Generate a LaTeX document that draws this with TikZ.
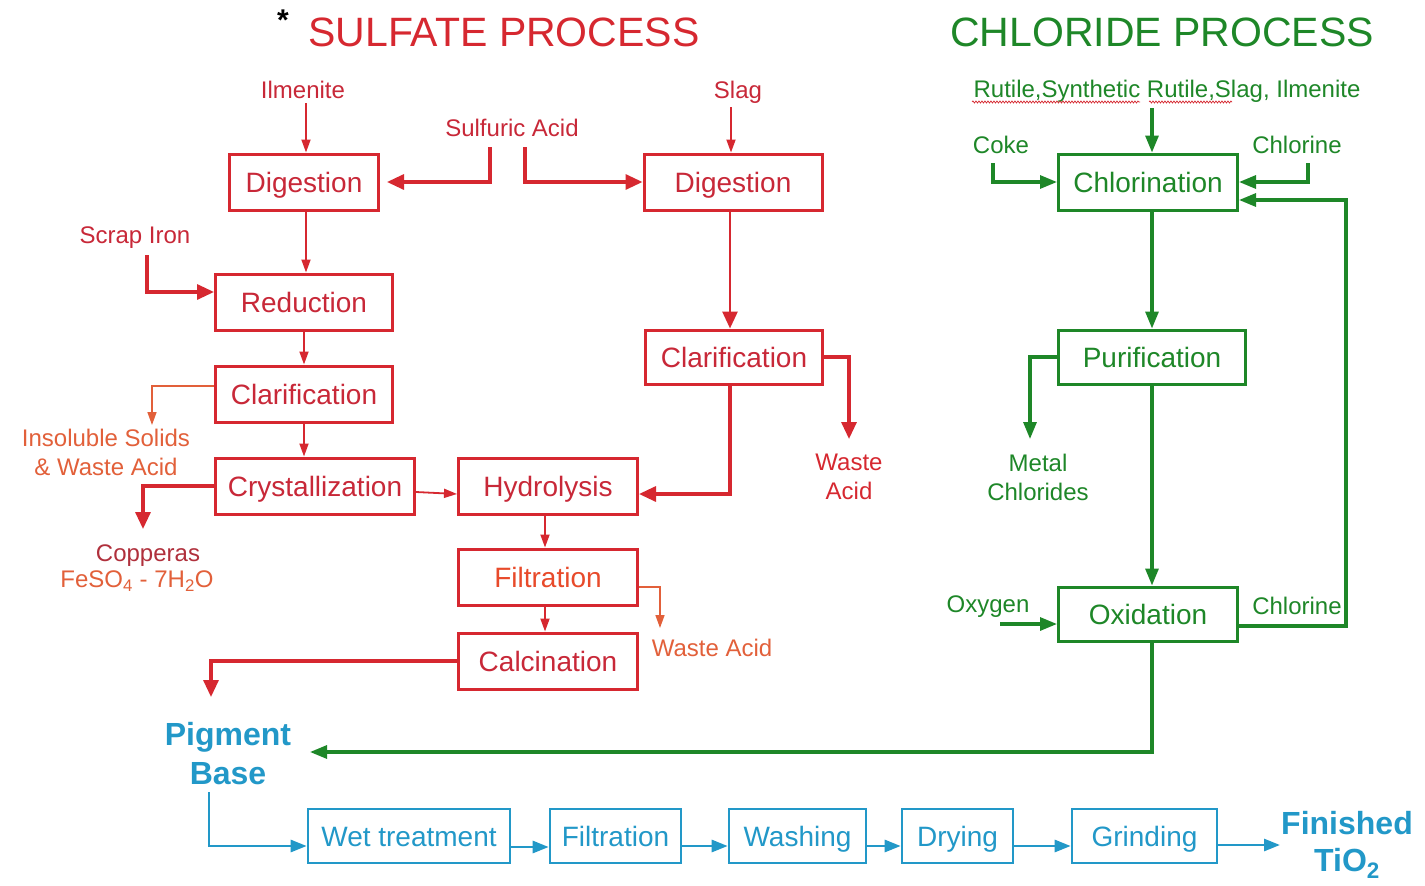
\documentclass[tikz,border=0pt]{standalone}
\usepackage{fontspec}
\setmainfont{Liberation Sans}
\usetikzlibrary{arrows.meta,decorations.pathmorphing}

\definecolor{sred}{RGB}{214,40,48}
\definecolor{stxt}{RGB}{200,40,56}
\definecolor{sorange}{RGB}{226,96,58}
\definecolor{sfilt}{RGB}{232,74,42}
\definecolor{sbrown}{RGB}{176,48,60}
\definecolor{cgreen}{RGB}{30,135,40}
\definecolor{pblue}{RGB}{34,152,200}

\tikzset{
  x=1pt, y=-1pt,
  procbox/.style={draw, line width=3pt, rectangle, inner sep=0pt, anchor=center,
    text height=20pt, text depth=0pt,
    font=\fontsize{28}{30}\selectfont},
  redbox/.style={procbox, draw=sred, text=stxt},
  greenbox/.style={procbox, draw=cgreen, text=cgreen},
  bluebox/.style={procbox, draw=pblue, text=pblue, line width=2.6pt},
  lbl/.style={inner sep=0pt, anchor=center, align=center, font=\fontsize{24}{29}\selectfont},
  bigtip/.style={-{Triangle[length=17pt,width=15pt]}},
  smalltip/.style={-{Triangle[length=13pt,width=9pt]}},
  thickred/.style={draw=sred, line width=3.2pt, bigtip},
  thinred/.style={draw=sred, line width=1.8pt, smalltip},
  thinorange/.style={draw=sorange, line width=1.6pt, smalltip},
  greenflow/.style={draw=cgreen, line width=3.1pt, -{Triangle[length=17pt,width=13pt]}},
  blueflow/.style={draw=pblue, line width=2.7pt, -{Triangle[length=16pt,width=12pt]}},
}

\begin{document}
\begin{tikzpicture}
\useasboundingbox[fill=white] (0,0) rectangle (1425,886);

% ---------- titles ----------
\node[inner sep=0pt, font=\bfseries\fontsize{30}{30}\selectfont] (star) at (283,20) {*};
\node[inner sep=0pt, text=sred, font=\fontsize{41}{41}\selectfont] (sulftitle) at (504,32) {SULFATE PROCESS};
\node[inner sep=0pt, text=cgreen, font=\fontsize{41}{41}\selectfont] (chlotitle) at (1162,32) {CHLORIDE PROCESS};

% ---------- sulfate process boxes ----------
\node[redbox, minimum width=149pt, minimum height=56pt] (digL) at (304,182) {Digestion};
\node[redbox, minimum width=177pt, minimum height=56pt] (red) at (304,302) {Reduction};
\node[redbox, minimum width=177pt, minimum height=56pt] (claL) at (304,394) {Clarification};
\node[redbox, minimum width=199pt, minimum height=56pt] (cry) at (315,486) {Crystallization};
\node[redbox, minimum width=179pt, minimum height=56pt] (hyd) at (548,486) {Hydrolysis};
\node[redbox, minimum width=179pt, minimum height=56pt, text=sfilt] (filS) at (548,577) {Filtration};
\node[redbox, minimum width=179pt, minimum height=56pt] (cal) at (548,661) {Calcination};
\node[redbox, minimum width=178pt, minimum height=56pt] (digR) at (733,182) {Digestion};
\node[redbox, minimum width=177pt, minimum height=54pt] (claR) at (734,357) {Clarification};

% ---------- sulfate labels ----------
\node[lbl, text=stxt] (ilm) at (303,90) {Ilmenite};
\node[lbl, text=stxt] (sulf) at (512,128) {Sulfuric Acid};
\node[lbl, text=stxt] (slag) at (738,92) {Slag};
\node[lbl, text=stxt] (scrap) at (135,238) {Scrap Iron};
\node[lbl, text=sorange] (insol) at (106,452) {Insoluble Solids\\\& Waste Acid};
\node[lbl, text=sbrown] (copp) at (148,556) {Copperas};
\node[lbl, text=sorange] (feso) at (137,581) {FeSO\textsubscript{4} - 7H\textsubscript{2}O};
\node[lbl, text=sred] (wasteR) at (849,477) {Waste\\Acid};
\node[lbl, text=sorange] (wasteF) at (712,648) {Waste Acid};

% ---------- sulfate connectors ----------
\draw[thinred] (ilm.south) ++(3,4) -- (digL.north -| 306,0);
\coordinate (saL) at (490,147);
\coordinate (saR) at (525,147);
\draw[thickred, shorten >=7pt] (saL) |- (digL.east);
\draw[thickred] (saR) |- (digR.west);
\draw[thinred] (slag.south) ++(-7,4) -- (digR.north -| 731,0);
\draw[thinred] (digL.south -| 306,0) -- (red.north -| 306,0);
\coordinate (scr) at (147,255);
\draw[thickred] (scr) |- (red.west |- 0,292);
\draw[thinred] (red.south) -- (claL.north);
\coordinate (insolTop) at (152,425);
\draw[thinorange] (claL.west |- 0,386) -| (insolTop);
\draw[thinred] (claL.south) -- (cry.north -| claL.south);
\coordinate (coppTop) at (143,529);
\draw[thickred] (cry.west) -| (coppTop);
\draw[thinred] (cry.east |- 0,492) -- (hyd.west |- 0,494);
\draw[thickred, line width=2.8pt] (digR.south -| 730,0) -- (claR.north -| 730,0);
\coordinate (wasteRTop) at (849,439);
\draw[thickred] (claR.east) -| (wasteRTop);
\draw[thickred] (claR.south -| 730,0) |- (hyd.east |- 0,494);
\draw[thinred] (hyd.south -| 545,0) -- (filS.north -| 545,0);
\coordinate (wasteFTop) at (660,628);
\draw[thinorange] (filS.east |- 0,587) -| (wasteFTop);
\draw[thinred] (filS.south -| 545,0) -- (cal.north -| 545,0);
\coordinate (pigTop) at (211,697);
\draw[thickred] (cal.west) -| (pigTop);

% ---------- chloride process boxes ----------
\node[greenbox, minimum width=179pt, minimum height=56pt] (chl) at (1148,182) {Chlorination};
\node[greenbox, minimum width=187pt, minimum height=54pt] (pur) at (1152,357) {Purification};
\node[greenbox, minimum width=179pt, minimum height=54pt] (oxi) at (1148,614) {Oxidation};

% ---------- chloride labels ----------
\node[lbl, text=cgreen] (feed) at (1167,91) {Rutile,Synthetic Rutile,Slag, Ilmenite};
\draw[sred, line width=0.7pt, decorate, decoration={snake, amplitude=1pt, segment length=3pt}]
  (972,102) -- (1140,102);
\draw[sred, line width=0.7pt, decorate, decoration={snake, amplitude=1pt, segment length=3pt}]
  (1149,102) -- (1232,102);
\node[lbl, text=cgreen] (coke) at (1001,145) {Coke};
\node[lbl, text=cgreen] (clin) at (1297,145) {Chlorine};
\node[lbl, text=cgreen] (metal) at (1038,477) {Metal\\Chlorides};
\node[lbl, text=cgreen] (oxy) at (988,607) {Oxygen};
\node[lbl, text=cgreen] (clout) at (1297,606) {Chlorine};

% ---------- chloride connectors ----------
\coordinate (feedBot) at (1152,108);
\draw[greenflow] (feedBot) -- (chl.north -| feedBot);
\coordinate (cokeBot) at (993,163);
\draw[greenflow] (cokeBot) |- (chl.west);
\coordinate (clinBot) at (1308,163);
\draw[greenflow] (clinBot) |- (chl.east);
\coordinate (loopR) at (1346,626);
\draw[greenflow] (oxi.east |- loopR) -- (loopR) |- (chl.east |- 0,200);
\draw[greenflow] (chl.south -| 1152,0) -- (pur.north -| 1152,0);
\coordinate (metalTop) at (1030,439);
\draw[greenflow] (pur.west) -| (metalTop);
\draw[greenflow] (pur.south -| 1152,0) -- (oxi.north -| 1152,0);
\coordinate (oxyStart) at (1000,624);
\draw[greenflow] (oxyStart) -- (oxi.west |- oxyStart);

% ---------- finishing line ----------
\node[inner sep=0pt, align=center, text=pblue, font=\bfseries\fontsize{32}{39}\selectfont] (pig) at (228,754) {Pigment\\Base};
\node[inner sep=0pt, align=center, text=pblue, font=\bfseries\fontsize{32}{37}\selectfont] (fin) at (1347,845) {Finished\\TiO\textsubscript{2}};

\coordinate (pigIn) at (310,752);
\draw[greenflow] (oxi.south -| 1152,0) |- (pigIn);

\node[bluebox, minimum width=202pt, minimum height=54pt] (wet) at (409,836) {Wet treatment};
\node[bluebox, minimum width=131pt, minimum height=54pt] (filB) at (615.5,836) {Filtration};
\node[bluebox, minimum width=137pt, minimum height=54pt] (wash) at (797.5,836) {Washing};
\node[bluebox, minimum width=111pt, minimum height=54pt] (dry) at (957.5,836) {Drying};
\node[bluebox, minimum width=145pt, minimum height=54pt] (grind) at (1144.5,836) {Grinding};

\coordinate (pigBot) at (209,792);
\draw[blueflow] (pigBot) |- (wet.west |- 0,846);
\draw[blueflow] (wet.east |- 0,847) -- (filB.west |- 0,847);
\draw[blueflow] (filB.east |- 0,846) -- (wash.west |- 0,846);
\draw[blueflow] (wash.east |- 0,846) -- (dry.west |- 0,846);
\draw[blueflow] (dry.east |- 0,846) -- (grind.west |- 0,846);
\coordinate (finIn) at (1280,845);
\draw[blueflow] (grind.east |- finIn) -- (finIn);
\end{tikzpicture}
\end{document}
